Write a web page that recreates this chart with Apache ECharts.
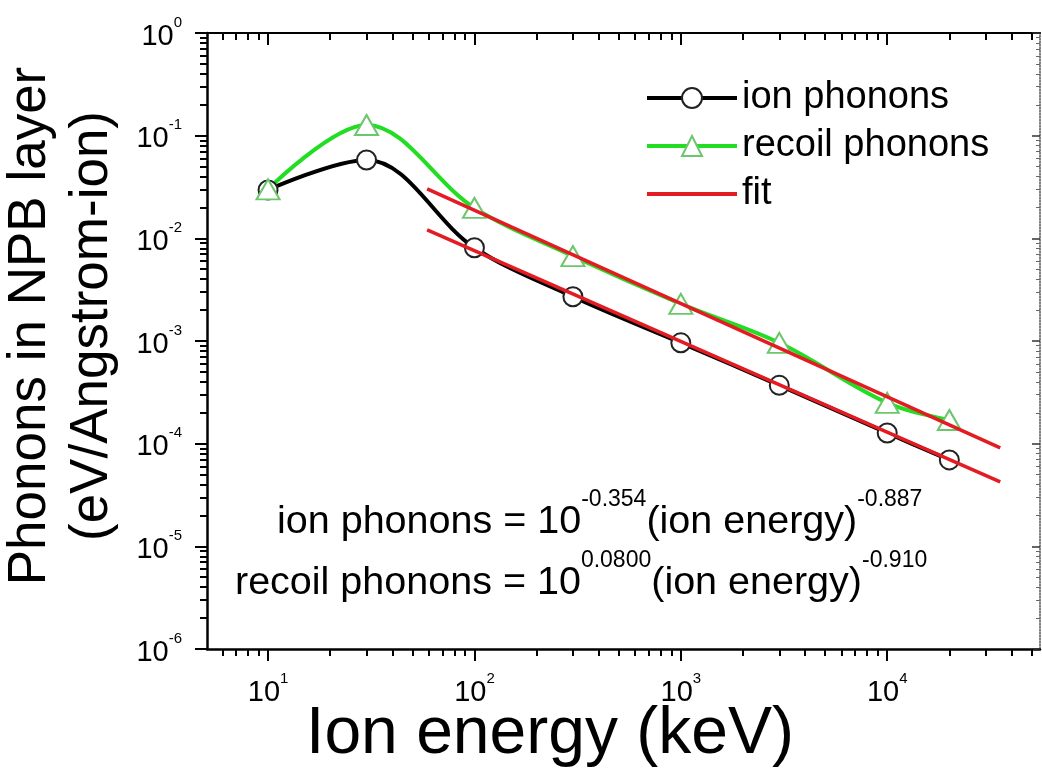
<!DOCTYPE html>
<html>
<head>
<meta charset="utf-8">
<script src="https://cdn.jsdelivr.net/npm/echarts@6/dist/echarts.min.js"></script>
<style>html,body{margin:0;padding:0;background:#fff}#c{width:1042px;height:783px}</style>
</head>
<body>
<div id="c"></div>
<script>
// ---- data ----
const energies = [10, 30, 100, 300, 1000, 3000, 10000, 20000];
const ionPhonons = [0.0296, 0.058, 0.0081, 0.0027, 0.00096, 0.00037, 0.000127, 0.0000695];
const recoilPhonons = [0.030, 0.127, 0.0198, 0.0067, 0.0023, 0.00096, 0.00025, 0.00017];
const fitEnergies = [59, 35300];
const fitIon = [0.0121, 0.0000425];
const fitRecoil = [0.0303, 0.000091];
const xDecadeExps = [1, 2, 3, 4];
const yDecadeExps = [-6, -5, -4, -3, -2, -1, 0];
const seriesNames = ['ion phonons', 'recoil phonons', 'fit'];
const eqIon = ['ion phonons = 10', '-0.354', '(ion energy)', '-0.887'];
const eqRecoil = ['recoil phonons = 10', '0.0800', '(ion energy)', '-0.910'];
const xTitle = 'Ion energy (keV)';
const yTitle1 = 'Phonons in NPB layer';
const yTitle2 = '(eV/Angstrom-ion)';

const xMin = 5.06, xMax = 55000, yMin = 1e-6, yMax = 1;

const F = '"Liberation Sans", Arial, Helvetica, sans-serif';
const lg = Math.log10;

// minor tick positions (log space) at 2..9 x decade
function minorLog(lo, hi) {
  const out = [];
  for (let d = Math.floor(lg(lo)) - 1; d <= Math.ceil(lg(hi)); d++) {
    for (let k = 2; k <= 9; k++) {
      const v = k * Math.pow(10, d);
      if (v >= lo && v <= hi) out.push(lg(v));
    }
  }
  return out;
}
const xMinor = minorLog(xMin, xMax);
const yMinor = minorLog(yMin, yMax);

const pair = (xs, ys) => xs.map((x, i) => [x, ys[i]]);

const gridBox = {left: 207, right: 2, top: 33, bottom: 134, outerBoundsMode: 'none'};
const grids = [0,1,2,3,4].map(() => Object.assign({}, gridBox));

const supRich = {
  b: {fontSize: 29, fontFamily: F, color: '#000', lineHeight: 36, verticalAlign: 'bottom'},
  s: {fontSize: 15, fontFamily: F, color: '#000', lineHeight: 15, verticalAlign: 'top'}
};
const expFmt = v => '{b|10}{s|' + Math.round(v) + '}';

function tickAxis(o) {
  return Object.assign({
    type: 'value', splitLine: {show: false},
    axisLine: {show: false, onZero: false},
    axisLabel: {show: false},
  }, o);
}

const lx0 = lg(xMin), lx1 = lg(xMax), ly0 = lg(yMin), ly1 = lg(yMax);

const xAxis = [
  {type: 'log', gridIndex: 0, min: xMin, max: xMax, show: false, logBase: 10},
  tickAxis({gridIndex: 1, position: 'bottom', min: lx0, max: lx1,
    axisLine: {show: true, onZero: false, lineStyle: {color: '#000', width: 2.5}},
    axisTick: {show: true, inside: false, length: 12, customValues: xDecadeExps, lineStyle: {color: '#000', width: 2}},
    axisLabel: {show: true, customValues: xDecadeExps, margin: 22, formatter: expFmt, rich: supRich}}),
  tickAxis({gridIndex: 2, position: 'bottom', min: lx0, max: lx1,
    axisTick: {show: true, inside: false, length: 7, customValues: xMinor, lineStyle: {color: '#000', width: 2}}}),
  tickAxis({gridIndex: 3, position: 'top', min: lx0, max: lx1,
    axisLine: {show: true, onZero: false, lineStyle: {color: '#000', width: 2}},
    axisTick: {show: true, inside: true, length: 12, customValues: xDecadeExps, lineStyle: {color: '#000', width: 2}}}),
  tickAxis({gridIndex: 4, position: 'top', min: lx0, max: lx1,
    axisTick: {show: true, inside: true, length: 7, customValues: xMinor, lineStyle: {color: '#000', width: 2}}})
];

const yAxis = [
  {type: 'log', gridIndex: 0, min: yMin, max: yMax, show: false, logBase: 10},
  tickAxis({gridIndex: 1, position: 'left', min: ly0, max: ly1,
    axisLine: {show: true, onZero: false, lineStyle: {color: '#000', width: 2.5}},
    axisTick: {show: true, inside: false, length: 12, customValues: yDecadeExps, lineStyle: {color: '#000', width: 2}},
    axisLabel: {show: true, customValues: yDecadeExps, margin: 25, formatter: expFmt, rich: supRich}}),
  tickAxis({gridIndex: 2, position: 'left', min: ly0, max: ly1,
    axisTick: {show: true, inside: false, length: 7, customValues: yMinor, lineStyle: {color: '#000', width: 2}}}),
  tickAxis({gridIndex: 3, position: 'right', min: ly0, max: ly1,
    axisLine: {show: true, onZero: false, lineStyle: {color: '#555', width: 1.5, type: 'dotted'}},
    axisTick: {show: true, inside: true, length: 8, customValues: yDecadeExps, lineStyle: {color: '#333', width: 1.5}}}),
  tickAxis({gridIndex: 4, position: 'right', min: ly0, max: ly1,
    axisTick: {show: true, inside: true, length: 4, customValues: yMinor, lineStyle: {color: '#666', width: 1}}})
];

const eqRich = {
  b: {fontSize: 39.5, fontFamily: F, fill: '#000', lineHeight: 54, verticalAlign: 'bottom'},
  s: {fontSize: 23, fontFamily: F, fill: '#000', lineHeight: 23, verticalAlign: 'top'}
};
const eqText = p => '{b|' + p[0] + '}{s|' + p[1] + '}{b|' + p[2] + '}{s|' + p[3] + '}';

const option = {
  animation: false,
  backgroundColor: '#fff',
  grid: grids,
  xAxis: xAxis,
  yAxis: yAxis,
  legend: {
    data: [
      {name: seriesNames[0]},
      {name: seriesNames[1]},
      {name: seriesNames[2], itemStyle: {opacity: 0}}
    ],
    orient: 'vertical',
    left: 640, top: 74,
    itemWidth: 90, itemHeight: 25, itemGap: 10,
    lineStyle: {width: 4},
    textStyle: {fontSize: 38, fontFamily: F, color: '#000', lineHeight: 38}
  },
  series: [
    {name: seriesNames[0], type: 'line', xAxisIndex: 0, yAxisIndex: 0,
     data: pair(energies, ionPhonons), smooth: 0.35,
     symbol: 'emptyCircle', symbolSize: 19,
     lineStyle: {color: '#000', width: 4},
     itemStyle: {color: '#222', borderWidth: 1.5}, z: 2},
    {name: seriesNames[1], type: 'line', xAxisIndex: 0, yAxisIndex: 0,
     data: pair(energies, recoilPhonons), smooth: 0.35,
     symbol: 'emptyTriangle', symbolSize: [23, 20],
     lineStyle: {color: '#22dd22', width: 4},
     itemStyle: {color: '#6cc66c', borderWidth: 1.5}, z: 2},
    {name: seriesNames[2], type: 'line', xAxisIndex: 0, yAxisIndex: 0,
     data: pair(fitEnergies, fitIon), symbol: 'none', showSymbol: false,
     lineStyle: {color: '#e31b23', width: 3.5}, itemStyle: {color: '#e31b23', opacity: 0}, z: 3},
    {name: seriesNames[2], type: 'line', xAxisIndex: 0, yAxisIndex: 0,
     data: pair(fitEnergies, fitRecoil), symbol: 'none', showSymbol: false,
     lineStyle: {color: '#e31b23', width: 3.5}, itemStyle: {color: '#e31b23', opacity: 0}, z: 3}
  ],
  graphic: [
    {type: 'text', left: 277, top: 488, style: {text: eqText(eqIon), rich: eqRich}},
    {type: 'text', left: 235, top: 549, style: {text: eqText(eqRecoil), rich: eqRich}},
    {type: 'text', x: 550, y: 735, style: {text: xTitle, fontSize: 66, fontFamily: F, fill: '#000', align: 'center', verticalAlign: 'middle'}},
    {type: 'text', x: 30, y: 326, rotation: Math.PI / 2, style: {text: yTitle1, fontSize: 53, fontFamily: F, fill: '#000', align: 'center', verticalAlign: 'middle'}},
    {type: 'text', x: 92, y: 326, rotation: Math.PI / 2, style: {text: yTitle2, fontSize: 53, fontFamily: F, fill: '#000', align: 'center', verticalAlign: 'middle'}}
  ]
};

const chart = echarts.init(document.getElementById('c'), null, {renderer: 'canvas'});
chart.setOption(option);
</script>
</body>
</html>
